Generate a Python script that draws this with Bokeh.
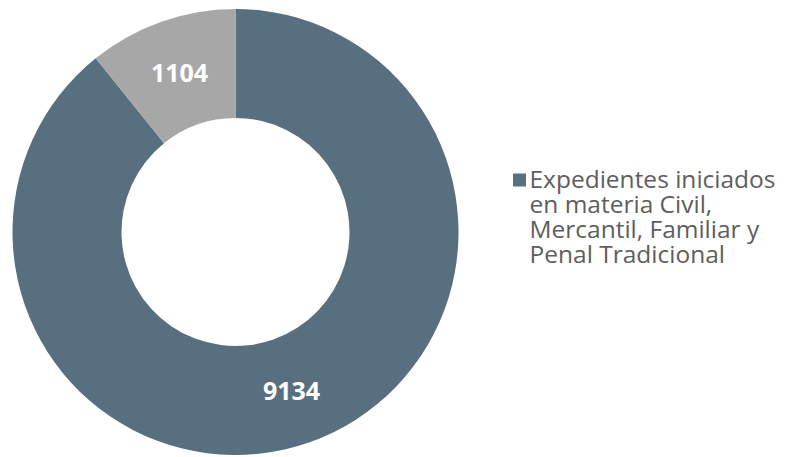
import math
from bokeh.plotting import figure
from bokeh.models import Range1d, ColumnDataSource
from bokeh.core.properties import value
from bokeh.embed import file_html
from bokeh.resources import INLINE

categories = ["Expedientes iniciados en materia Civil, Mercantil, Familiar y Penal Tradicional", "Otros"]
values = [9134, 1104]
colors = ["#586f7f", "#a7a7a8"]
legend_lines = ["Expedientes iniciados", "en materia Civil,", "Mercantil, Familiar y", "Penal Tradicional"]

W, H = 786, 457
p = figure(width=W, height=H, output_backend="svg", toolbar_location=None,
           x_range=Range1d(0, W), y_range=Range1d(0, H), min_border=0)
p.axis.visible = False
p.grid.visible = False
p.outline_line_color = None
p.background_fill_color = "white"

cx, cy = 235, H - 231.5
r_out, r_in = 223, 114

total = sum(values)
starts, ends, lx, ly, txt = [], [], [], [], []
cum = 0.0
for v in values:
    a0 = math.pi / 2 - 2 * math.pi * cum / total
    a1 = math.pi / 2 - 2 * math.pi * (cum + v) / total
    starts.append(a1)
    ends.append(a0)
    mid = (a0 + a1) / 2
    rm = (r_in + r_out) / 2
    lx.append(cx + rm * math.cos(mid))
    ly.append(cy + rm * math.sin(mid))
    txt.append(str(v))
    cum += v

src = ColumnDataSource(dict(start=starts, end=ends, color=colors, lx=lx, ly=ly, txt=txt))
p.annular_wedge(x=cx, y=cy, inner_radius=r_in, outer_radius=r_out,
                start_angle="start", end_angle="end", fill_color="color",
                line_color=None, source=src)
p.text(x="lx", y="ly", text="txt", source=src, text_color="white",
       text_font=value("Open Sans"), text_font_style="bold", text_font_size="25px",
       text_align="center", text_baseline="middle")

# legend (single item)
p.scatter(x=[519], y=[H - 179.5], marker="square", size=13, fill_color=colors[0], line_color=None)
line_h = 25
p.text(x=[529] * len(legend_lines), y=[H - 178 - i * line_h for i in range(len(legend_lines))],
       text=legend_lines, text_color="#5e5e5e", text_font=value("Open Sans"),
       text_font_size="24.5px", text_align="left", text_baseline="alphabetic")

open("out.html", "w").write(file_html(p, INLINE))
